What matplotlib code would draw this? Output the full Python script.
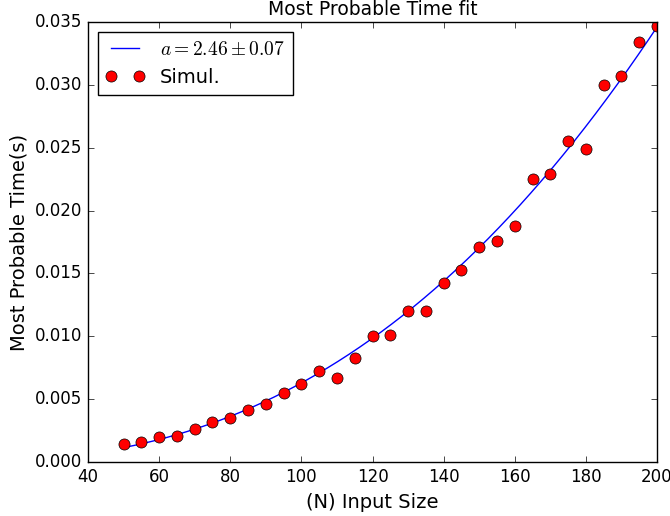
import numpy as np
import matplotlib
matplotlib.use("Agg")
import matplotlib.pyplot as plt

# input sizes and measured most probable times
N = [50, 55, 60, 65, 70, 75, 80, 85, 90, 95, 100, 105, 110, 115, 120, 125,
     130, 135, 140, 145, 150, 155, 160, 165, 170, 175, 180, 185, 190, 195, 200]
t = [0.0014, 0.0016, 0.0020, 0.0021, 0.0026, 0.0032, 0.0035, 0.0041, 0.0046,
     0.0055, 0.0062, 0.0072, 0.0067, 0.0083, 0.0100, 0.0101, 0.0120, 0.0120,
     0.0142, 0.0153, 0.0171, 0.0176, 0.0188, 0.0225, 0.0229, 0.0255, 0.0249,
     0.0300, 0.0307, 0.0334, 0.0347]

# power law fit t = c * N**a
a_fit = 2.46
a_err = 0.07
t_at_200 = 0.0346

plt.style.use("classic")
fig = plt.figure(figsize=(6.7, 5.16), dpi=100)
ax = fig.add_axes([88/670, 54/516, 569/670, 440/516])

Nfit = np.linspace(min(N), max(N), 200)
c = t_at_200 / 200**a_fit
ax.plot(Nfit, c*Nfit**a_fit, "b-", label=r"$a = %.2f \pm %.2f$" % (a_fit, a_err))
ax.plot(N, t, "ro", markersize=8, label="Simul.")

ax.set_xlim(40, 200)
ax.set_ylim(0, 0.035)
ax.set_xlabel("(N) Input Size", fontsize=14)
ax.set_ylabel("Most Probable Time(s)", fontsize=14)
ax.set_title("Most Probable Time fit", fontsize=13.5)
ax.legend(loc="upper left", fontsize=14)

plt.savefig("out.png", dpi=100)
